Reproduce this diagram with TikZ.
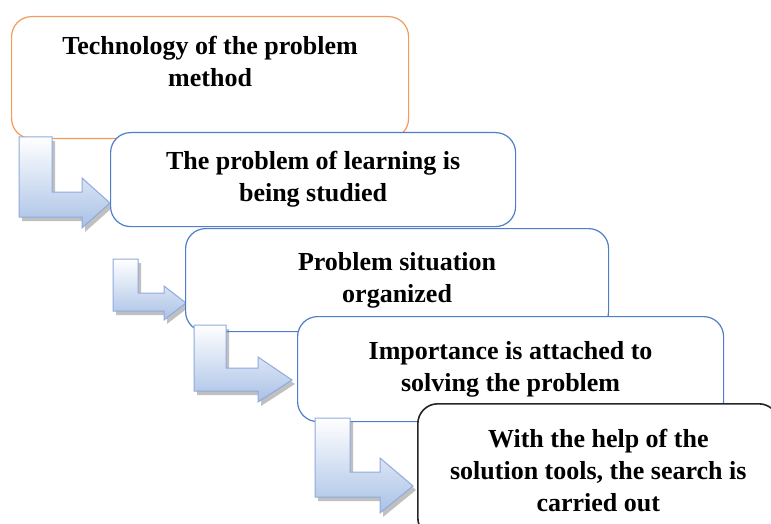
\documentclass[tikz,border=0pt]{standalone}
\usepackage{fontspec}
\setmainfont{Liberation Serif}
\definecolor{orangebord}{HTML}{F39A5C}
\definecolor{bleubord}{HTML}{4F7FCB}
\definecolor{flechebord}{HTML}{8FAADC}
\definecolor{flechebas}{HTML}{A9C1E6}
\begin{document}
\begin{tikzpicture}[x=0.5pt,y=-0.5pt]
    \tikzstyle{boite}=[draw=bleubord,line width=0.6pt,fill=white,rounded corners=10pt,
                       anchor=north west,inner sep=0pt,align=center,
                       font=\bfseries\fontsize{13}{16}\selectfont]
    \tikzstyle{fleche}=[draw=flechebord,line width=0.5pt,top color=white,bottom color=flechebas,
                        preaction={fill=black!55,opacity=0.45,transform canvas={shift={(1.5pt,-2pt)}}}]
    \useasboundingbox (0,0) rectangle (771,524);
    \clip (0,0) rectangle (771,524);
    \node[boite,draw=orangebord,minimum width=198.5pt,minimum height=61pt] (techno) at (11,16)
        {Technology of the problem\\ method\\ \mbox{}};
    % first bent arrow
    \draw[fleche] (19,137) -- (52,137) -- (52,192) -- (82,192) -- (82,178) -- (110,203)
        -- (82,228) -- (82,217) -- (19,217) -- cycle;
    \node[boite,minimum width=202.5pt,minimum height=47pt] (etude) at (110,132)
        {The problem of learning is\\ being studied};
    \draw[fleche] (113,259) -- (138,259) -- (138,293) -- (164,293) -- (164,286) -- (186,303)
        -- (164,320) -- (164,311) -- (113,311) -- cycle;
    \node[boite,minimum width=211.5pt,minimum height=51.5pt] (situation) at (185,228)
        {Problem situation\\ organized};
    \draw[fleche] (194,325) -- (226,325) -- (226,368) -- (258,368) -- (258,357) -- (292,380)
        -- (258,402) -- (258,391) -- (194,391) -- cycle;
    \node[boite,minimum width=213pt,minimum height=52.5pt] (importance) at (297,316)
        {Importance is attached to\\ solving the problem};
    % last one
    \draw[fleche] (315,418) -- (350,418) -- (350,472) -- (380,472) -- (380,458) -- (413,486)
        -- (380,513) -- (380,497) -- (315,497) -- cycle;
    \node[boite,draw=black!85,line width=0.8pt,minimum width=180.5pt,minimum height=67pt] (recherche) at (417,403)
        {With the help of the\\ solution tools, the search is\\ carried out};
\end{tikzpicture}
\end{document}
